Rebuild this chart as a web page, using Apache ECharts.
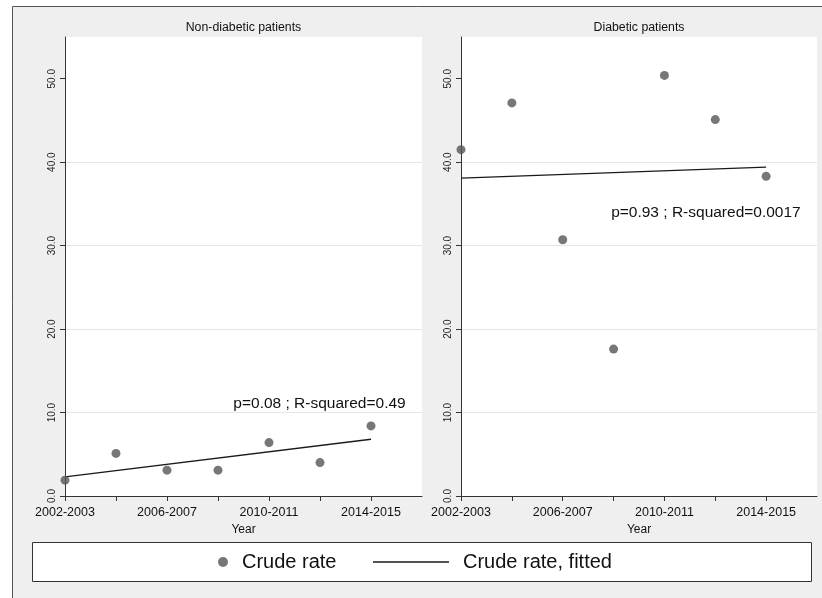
<!DOCTYPE html>
<html>
<head>
<meta charset="utf-8">
<script src="https://cdn.jsdelivr.net/npm/echarts@6/dist/echarts.min.js"></script>
<style>
html,body{margin:0;padding:0;background:#fff;}
#chart{width:822px;height:598px;}
</style>
</head>
<body>
<div id="chart"></div>
<script>
// ---- data ----
const periods = ['2002-2003','2004-2005','2006-2007','2008-2009','2010-2011','2012-2013','2014-2015'];
const labeledPeriodIdx = [0, 2, 4, 6];
const yTicks = [0, 10, 20, 30, 40, 50];
const panelTitles = ['Non-diabetic patients', 'Diabetic patients'];
const nonDiabeticRate = [1.9, 5.1, 3.1, 3.1, 6.4, 4.0, 8.4];
const diabeticRate = [41.5, 47.1, 30.7, 17.6, 50.4, 45.1, 38.3];
const nonDiabeticFit = [2.3, 6.8];   // fitted value at first and last period
const diabeticFit = [38.1, 39.4];
const statTexts = ['p=0.08 ; R-squared=0.49', 'p=0.93 ; R-squared=0.0017'];
const statPos = [[6.69, 11.0], [6.69, 34.0]];

const FONT = '"Liberation Sans", Arial, Helvetica, sans-serif';
const grids = [
  {left: 65, top: 37, width: 357, height: 459},
  {left: 461, top: 37, width: 356, height: 459}
];

const chart = echarts.init(document.getElementById('chart'), null, {renderer: 'canvas'});

function xAxis(i) {
  return {
    type: 'value', gridIndex: i, min: 0, max: 7, interval: 1,
    name: 'Year', nameLocation: 'middle', nameGap: 23,
    nameTextStyle: {fontFamily: FONT, fontSize: 12, color: '#111'},
    axisLine: {show: true, onZero: false, lineStyle: {color: '#333', width: 1}},
    axisTick: {show: true, length: 5, lineStyle: {color: '#333'}, customValues: periods.map((p, k) => k)},
    axisLabel: {show: true, margin: 10, fontFamily: FONT, fontSize: 12.5, color: '#111',
      customValues: labeledPeriodIdx, formatter: v => periods[v] || ''},
    splitLine: {show: false}
  };
}
function yAxis(i) {
  return {
    type: 'value', gridIndex: i, min: 0, max: 55, interval: 10,
    axisLine: {show: true, lineStyle: {color: '#333', width: 1}},
    axisTick: {show: true, length: 5, lineStyle: {color: '#333'}, customValues: yTicks},
    axisLabel: {show: true, rotate: 90, margin: 8, fontFamily: FONT, fontSize: 10, color: '#222',
      customValues: yTicks, formatter: v => v.toFixed(1)},
    splitLine: {show: true, showMinLine: false, showMaxLine: false, lineStyle: {color: '#e6e6e6', width: 1}}
  };
}

const rates = [nonDiabeticRate, diabeticRate];
const fits = [nonDiabeticFit, diabeticFit];
const series = [];
for (let i = 0; i < 2; i++) {
  series.push({
    name: 'Crude rate', type: 'scatter', xAxisIndex: i, yAxisIndex: i,
    symbol: 'circle', symbolSize: 9, itemStyle: {color: '#555'},
    data: rates[i].map((v, k) => [k, v]), z: 3
  });
  series.push({
    name: 'Crude rate, fitted', type: 'line', xAxisIndex: i, yAxisIndex: i,
    showSymbol: false, symbol: 'none', lineStyle: {color: '#1a1a1a', width: 1.3}, itemStyle: {color: '#1a1a1a'},
    data: [[0, fits[i][0]], [periods.length - 1, fits[i][1]]], z: 2,
    markPoint: {
      symbol: 'circle', symbolSize: 1, itemStyle: {color: 'rgba(0,0,0,0)'},
      label: {show: true, position: 'left', distance: 0, formatter: statTexts[i],
        fontFamily: FONT, fontSize: 15.5, color: '#111'},
      data: [{coord: statPos[i]}]
    }
  });
}

const graphic = [
  {type: 'rect', z: -10, shape: {x: 12.5, y: 6.5, width: 830, height: 620},
   style: {fill: '#efefef', stroke: '#555', lineWidth: 1}},
  {type: 'rect', z: -5, shape: {x: 32.5, y: 542.5, width: 779, height: 39},
   style: {fill: '#fff', stroke: '#333', lineWidth: 1}}
];
grids.forEach((g, i) => {
  graphic.push({type: 'text', z: 5, x: g.left + g.width / 2, y: 28,
    style: {text: panelTitles[i], textAlign: 'center', textVerticalAlign: 'middle',
      font: '12.3px ' + FONT, fill: '#111'}});
});

chart.setOption({
  animation: false,
  backgroundColor: '#fff',
  grid: grids.map(g => Object.assign({show: true, backgroundColor: '#fff', borderWidth: 0, containLabel: false}, g)),
  xAxis: [xAxis(0), xAxis(1)],
  yAxis: [yAxis(0), yAxis(1)],
  legend: [
    {data: ['Crude rate'], left: 218, top: 552, padding: 0, icon: 'circle', itemWidth: 10, itemHeight: 10,
     textStyle: {fontFamily: FONT, fontSize: 20, color: '#111', padding: [0, 0, 0, 9]}, selectedMode: false},
    {data: ['Crude rate, fitted'], left: 373, top: 552, padding: 0, icon: 'rect', itemWidth: 76, itemHeight: 1.5,
     textStyle: {fontFamily: FONT, fontSize: 20, color: '#111', padding: [0, 0, 0, 9]}, selectedMode: false}
  ],
  graphic: graphic,
  series: series
});
</script>
</body>
</html>
